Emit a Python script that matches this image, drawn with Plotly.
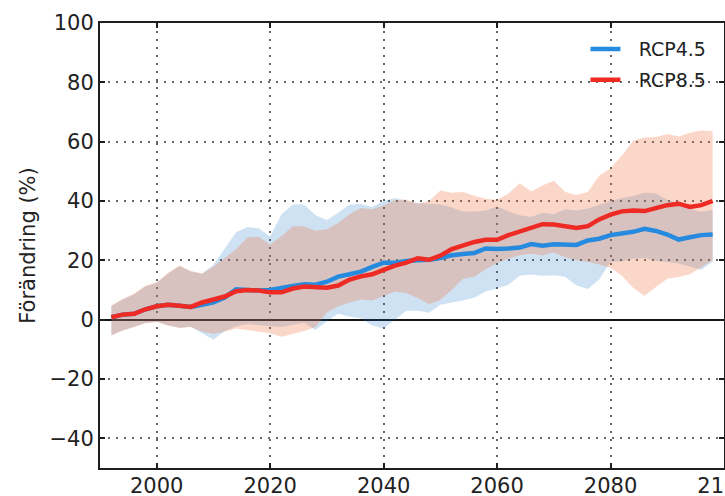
import plotly.graph_objects as go

years = list(range(1992, 2099, 2))

rcp45_mean = [0.8, 1.7, 2.0, 3.5, 4.5, 5.0, 4.7, 4.3, 5.0, 5.8, 7.5, 10.2, 10.0, 9.8,
              10.0, 10.8, 11.4, 11.9, 11.8, 12.8, 14.5, 15.3, 16.2, 17.8, 19.2, 19.2,
              19.8, 20.0, 20.2, 20.8, 21.7, 22.1, 22.5, 24.0, 23.8, 24.0, 24.3, 25.5,
              24.9, 25.4, 25.3, 25.2, 26.7, 27.3, 28.5, 28.9, 29.6, 30.6, 29.9, 28.7,
              27.0, 27.8, 28.5, 28.7]
rcp85_mean = [0.8, 1.7, 2.0, 3.5, 4.5, 5.0, 4.7, 4.3, 5.8, 6.9, 7.8, 9.6, 10.0, 9.8,
              9.2, 9.2, 10.5, 11.2, 11.0, 10.8, 11.5, 13.5, 14.6, 15.3, 16.8, 18.2,
              19.2, 20.7, 20.2, 21.6, 23.8, 25.1, 26.2, 26.9, 26.9, 28.5, 29.8, 31.0,
              32.2, 32.1, 31.5, 30.9, 31.5, 33.8, 35.4, 36.5, 36.8, 36.6, 37.6, 38.6,
              39.1, 38.0, 38.6, 40.0]
rcp45_high = [4.6, 6.8, 8.5, 11.2, 12.4, 15.5, 18.0, 16.2, 15.5, 18.5, 24.0, 29.5,
              31.2, 30.8, 28.0, 35.5, 38.8, 38.8, 35.2, 33.6, 36.0, 38.8, 39.0, 38.0,
              40.0, 41.0, 40.0, 39.3, 39.1, 38.8, 37.8, 36.5, 36.5, 36.8, 38.2, 36.5,
              35.2, 34.6, 36.0, 35.5, 37.2, 36.8, 37.5, 38.8, 40.0, 41.0, 41.7, 42.8,
              42.5, 40.4, 39.3, 37.3, 36.4, 37.0]
rcp45_low = [-5.2, -3.6, -2.4, -1.1, -0.7, -1.9, -2.7, -2.4, -4.5, -6.8, -3.8, -2.2,
             -1.5, -1.8, -2.2, -2.5, -1.8, -1.0, -3.5, -0.5, 2.0, 1.0, 0.5, -2.0,
             -3.0, 0.0, 3.0, 3.0, 2.3, 5.0, 5.8, 6.5, 7.5, 9.5, 10.5, 11.8, 14.8,
             15.2, 14.8, 15.0, 14.5, 11.5, 10.3, 13.5, 19.5, 19.6, 20.5, 20.8, 19.8,
             19.4, 18.9, 17.9, 16.8, 19.5]
rcp85_high = [4.8, 7.0, 8.7, 11.4, 12.6, 15.8, 18.3, 16.4, 15.6, 17.8, 20.8, 23.8,
              27.8, 27.9, 25.3, 28.2, 31.5, 31.5, 30.0, 30.5, 32.6, 35.6, 37.6, 37.2,
              38.5, 40.3, 40.5, 39.1, 40.0, 43.5, 42.8, 43.0, 41.8, 40.8, 40.3, 42.5,
              46.0, 43.2, 45.2, 46.8, 43.0, 42.0, 43.0, 48.5, 51.0, 55.3, 60.4, 61.4,
              61.6, 62.6, 61.7, 63.0, 63.8, 63.5]
rcp85_low = [-5.3, -3.7, -2.5, -1.2, -0.8, -2.0, -2.8, -2.5, -4.0, -4.8, -4.0, -3.0,
             -3.6, -4.0, -4.6, -5.8, -4.8, -3.8, -2.5, 2.5, 4.5, 5.8, 6.8, 6.5, 8.0,
             9.5, 9.0, 7.3, 5.2, 6.6, 10.0, 13.8, 14.5, 17.0, 19.0, 20.6, 21.7, 22.2,
             21.6, 22.6, 21.0, 20.0, 19.4, 18.6, 17.5, 14.8, 10.8, 8.0, 11.0, 13.8,
             14.4, 15.3, 17.6, 20.0]

x_ticks = [2000, 2020, 2040, 2060, 2080, 2100]
y_ticks = [-40, -20, 0, 20, 40, 60, 80, 100]
series_names = ["RCP4.5", "RCP8.5"]
y_title = "Förändring (%)"

blue_line = "rgb(38,138,222)"
red_line = "rgb(238,42,36)"
blue_fill = "rgba(15,110,195,0.20)"
red_fill = "rgba(240,110,60,0.28)"
legend_pad = "\u2002\u2009"

fig = go.Figure()

fig.add_trace(go.Scatter(x=years + years[::-1], y=rcp45_high + rcp45_low[::-1],
                         fill="toself", fillcolor=blue_fill, line=dict(width=0),
                         mode="lines", showlegend=False, hoverinfo="skip"))
fig.add_trace(go.Scatter(x=years + years[::-1], y=rcp85_high + rcp85_low[::-1],
                         fill="toself", fillcolor=red_fill, line=dict(width=0),
                         mode="lines", showlegend=False, hoverinfo="skip"))
fig.add_trace(go.Scatter(x=years, y=rcp45_mean, mode="lines",
                         name=legend_pad + series_names[0],
                         line=dict(color=blue_line, width=4.5), legendgroup="a"))
fig.add_trace(go.Scatter(x=years, y=rcp85_mean, mode="lines",
                         name=legend_pad + series_names[1],
                         line=dict(color=red_line, width=4.5), legendgroup="b"))

axis_common = dict(
    showline=True, linecolor="rgb(30,30,30)", linewidth=2, mirror="ticks",
    ticks="inside", ticklen=5, tickwidth=1.5, tickcolor="rgb(30,30,30)",
    showgrid=True, gridcolor="rgba(0,0,0,0.6)", gridwidth=1.5, griddash="2px,6px",
    tickfont=dict(family="DejaVu Sans", size=21, color="#222"),
    automargin=False, ticklabeloverflow="allow",
)

fig.update_xaxes(range=[1990, 2100], tickvals=x_ticks, zeroline=False,
                 ticklabelstandoff=-2, **axis_common)
fig.update_yaxes(range=[-50, 100], tickvals=y_ticks, zeroline=True,
                 zerolinecolor="rgb(20,20,20)", zerolinewidth=2,
                 title=dict(text=y_title, font=dict(family="DejaVu Sans", size=21, color="#222"),
                            standoff=8),
                 **axis_common)

fig.update_layout(
    width=725, height=496,
    margin=dict(l=100, r=1, t=23, b=28),
    paper_bgcolor="white", plot_bgcolor="white",
    font=dict(family="DejaVu Sans", color="#222"),
    legend=dict(x=0.778, y=0.984, xanchor="left", yanchor="top",
                bgcolor="rgba(0,0,0,0)", borderwidth=0,
                font=dict(family="DejaVu Sans", size=19, color="#222"),
                tracegroupgap=3, itemwidth=30),
    showlegend=True,
)

fig.write_html("out.html", config={"displayModeBar": False},
               post_script="document.body.style.margin='0';document.body.style.overflow='hidden';")
